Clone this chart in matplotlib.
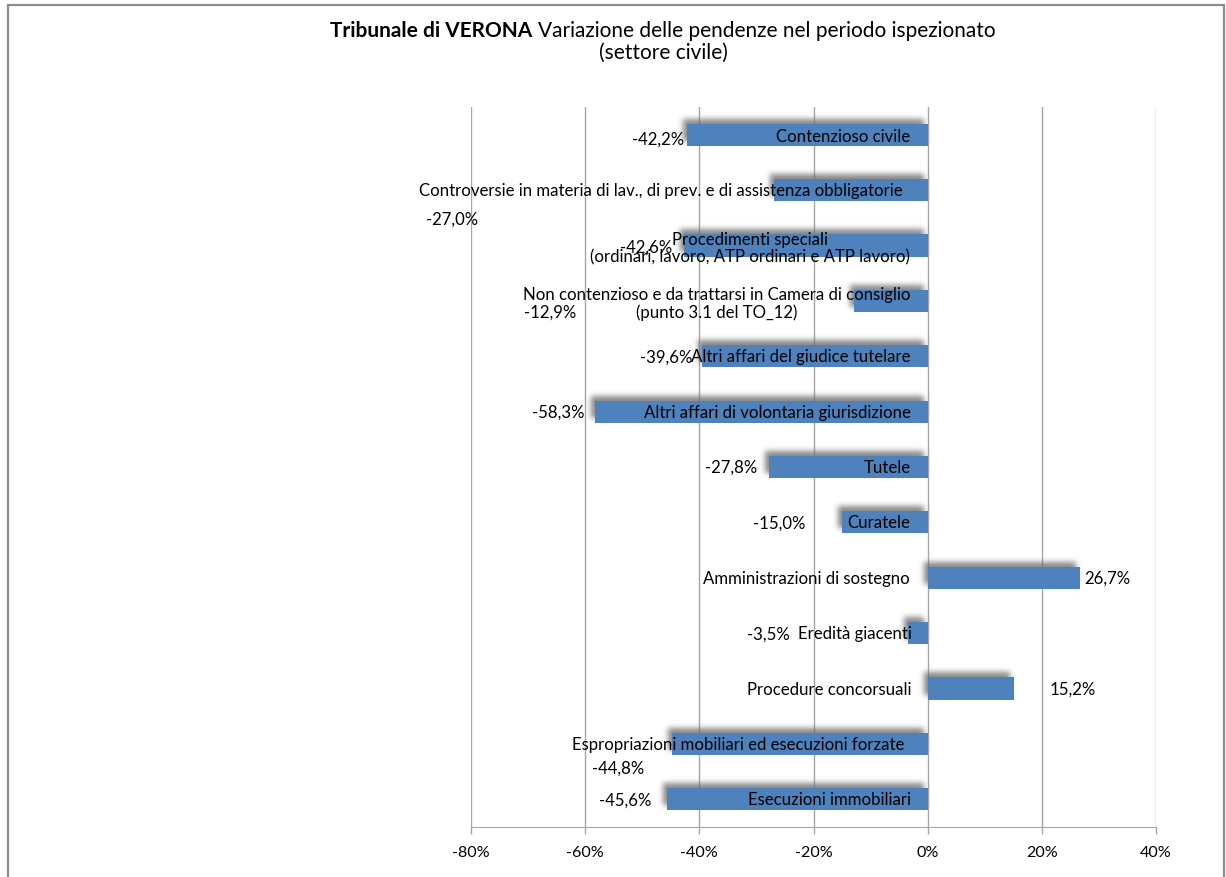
import numpy as np
import matplotlib
matplotlib.use('Agg')
import matplotlib.pyplot as plt
from matplotlib.patches import Rectangle
from matplotlib.transforms import IdentityTransform

# ---------------- data ----------------
categories = [
    "Contenzioso civile",
    "Controversie in materia di lav., di prev. e di assistenza obbligatorie",
    "Procedimenti speciali\n(ordinari, lavoro, ATP ordinari e ATP lavoro)",
    "Non contenzioso e da trattarsi in Camera di consiglio\n(punto 3.1 del TO_12)",
    "Altri affari del giudice tutelare",
    "Altri affari di volontaria giurisdizione",
    "Tutele",
    "Curatele",
    "Amministrazioni di sostegno",
    "Eredità giacenti",
    "Procedure concorsuali",
    "Espropriazioni mobiliari ed esecuzioni forzate",
    "Esecuzioni immobiliari",
]
values = [-42.2, -27.0, -42.6, -12.9, -39.6, -58.3, -27.8, -15.0, 26.7, -3.5, 15.2, -44.8, -45.6]
value_labels = ["-42,2%", "-27,0%", "-42,6%", "-12,9%", "-39,6%", "-58,3%", "-27,8%",
                "-15,0%", "26,7%", "-3,5%", "15,2%", "-44,8%", "-45,6%"]
xticks = [-80, -60, -40, -20, 0, 20, 40]
xtick_labels = ["-80%", "-60%", "-40%", "-20%", "0%", "20%", "40%"]

# label layout (x anchor in axis units, y offset in category units)
value_label_x = [-42.7, -78.8, -44.7, -61.5, -41.3, -60.1, -29.8, -21.4, 27.5, -24.2, 21.4, -49.6, -48.4]
value_label_dy = [0.07, 0.52, 0.02, 0.19, 0, 0, 0, 0, 0, 0, 0, 0.42, 0]
cat_label_x = [-3.0, -4.4, -3.1, -3.0, -3.0, -3.0, -3.0, -3.0, -3.1, -2.8, -2.8, -4.0, -3.0]
cat_label_dy = [0.02, 0, 0.04, 0.04, 0, 0, 0, 0, 0, 0, 0, 0, 0]

W, H = 1226, 878
FONT = "Lato"
BLUE = "#4F81BD"
GRID = "#a6a6a6"

fig = plt.figure(figsize=(W / 100, H / 100), dpi=100)
renderer = fig.canvas.get_renderer()


def text_width(s, size, weight="normal"):
    t = fig.text(0, 0, s, fontsize=size, family=FONT, weight=weight)
    w = t.get_window_extent(renderer).width
    t.remove()
    return w


def fit(s, target, weight="normal"):
    return 10 * target / text_width(s, 10, weight)


cat_fs = fit(categories[1], 486)
tick_fs = fit("-80%", 37.5)

ax = fig.add_axes([471 / W, 1 - 828 / H, (1156 - 471) / W, (828 - 108) / H])
y = np.arange(len(categories))


# ---- blurred shadow filter ----
def blur1d(a, sigma, axis):
    r = int(3 * sigma)
    k = np.exp(-0.5 * (np.arange(-r, r + 1) / sigma) ** 2)
    k /= k.sum()
    return np.apply_along_axis(lambda v: np.convolve(v, k, mode="same"), axis, a)


def shadow_filter(im, dpi):
    pad = 16
    h, w, _ = im.shape
    p = np.zeros((h + 2 * pad, w + 2 * pad, 4), dtype=float)
    p[pad:pad + h, pad:pad + w] = im
    a = p[..., 3]
    a = np.roll(a, -4, axis=1)
    a = np.roll(a, -5, axis=0)
    a = blur1d(blur1d(a, 2.8, 0), 2.8, 1)
    out = np.zeros_like(p)
    out[..., :3] = 0.42
    out[..., 3] = np.clip(a * 0.8, 0, 1)
    return out, -pad, -pad


shadows = ax.barh(y, values, height=0.4, color="black", zorder=1.5)
for p in shadows.patches:
    p.set_agg_filter(shadow_filter)
ax.barh(y, values, height=0.4, color=BLUE, zorder=2)

ax.set_xlim(-80, 40)
ax.set_ylim(len(categories) - 0.5, -0.5)
ax.set_xticks(xticks)
ax.set_xticklabels(xtick_labels, family=FONT, fontsize=tick_fs)
ax.set_yticks([])
ax.grid(axis="x", color=GRID, lw=1)
ax.set_axisbelow(True)
for s in ["top", "right", "left"]:
    ax.spines[s].set_visible(False)
ax.spines["bottom"].set_color(GRID)
ax.tick_params(axis="x", length=5, color=GRID, width=1, pad=8, labelcolor="black")

for i in range(len(categories)):
    ax.text(cat_label_x[i], y[i] + cat_label_dy[i], categories[i], ha="right", va="center",
            multialignment="center", family=FONT, fontsize=cat_fs, zorder=5,
            linespacing=1.15)
    ha = "left" if values[i] > 0 else "right"
    ax.text(value_label_x[i], y[i] + value_label_dy[i], value_labels[i], ha=ha, va="center",
            family=FONT, fontsize=cat_fs, zorder=5)

# ---- title ----
bold = "Tribunale di VERONA"
reg = "Variazione delle pendenze nel periodo ispezionato"
wb = text_width(bold + " ", 10, "bold")
wr = text_width(reg, 10)
title_fs = 10 * 670 / (wb + wr)
wb_px = text_width(bold + " ", title_fs, "bold")
wr_px = text_width(reg, title_fs)
x0 = 663 - (wb_px + wr_px) / 2
fig.text(x0 / W, 1 - 31 / H, bold, family=FONT, weight="bold", fontsize=title_fs,
         ha="left", va="center")
fig.text((x0 + wb_px) / W, 1 - 31 / H, reg, family=FONT, fontsize=title_fs,
         ha="left", va="center")
fig.text(663 / W, 1 - 53 / H, "(settore civile)", family=FONT, fontsize=title_fs,
         ha="center", va="center")

# ---- chart border ----
fig.patches.append(Rectangle((8, -10), 1216, 872 + 10, transform=IdentityTransform(),
                             fill=False, edgecolor="#8c8c8c", lw=1.6))

fig.savefig("out.png", dpi=100)
